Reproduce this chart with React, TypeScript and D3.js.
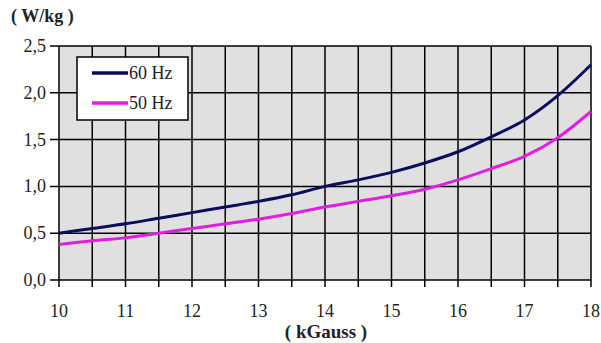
import * as d3 from 'd3';

const xs = [10, 10.5, 11, 11.5, 12, 12.5, 13, 13.5, 14, 14.5, 15, 15.5, 16, 16.5, 17, 17.5, 18];
const hz60 = [0.5, 0.55, 0.6, 0.66, 0.72, 0.78, 0.84, 0.91, 1.0, 1.07, 1.15, 1.25, 1.37, 1.53, 1.71, 1.97, 2.3];
const hz50 = [0.38, 0.42, 0.45, 0.5, 0.55, 0.6, 0.65, 0.71, 0.78, 0.84, 0.9, 0.97, 1.07, 1.19, 1.32, 1.52, 1.8];
const xTicks = [10, 11, 12, 13, 14, 15, 16, 17, 18];
const yTicks = [0, 0.5, 1, 1.5, 2, 2.5];
const series = [
  { name: '60 Hz', values: hz60, color: '#0c0c5e' },
  { name: '50 Hz', values: hz50, color: '#e01ee0' },
];

const W = 601, H = 343;
const left = 59, right = 591, top = 46, bottom = 280;
const font = '"Liberation Serif", "DejaVu Serif", serif';

export default function App() {
  const x = d3.scaleLinear().domain([10, 18]).range([left, right]);
  const y = d3.scaleLinear().domain([0, 2.5]).range([bottom, top]);
  const line = d3.line<number>()
    .x((_, i) => x(xs[i]))
    .y(d => y(d))
    .curve(d3.curveMonotoneX);
  const xGrid = d3.range(10, 18.01, 0.5);
  const yGrid = d3.range(0, 2.51, 0.5);
  const fmt = (v: number) => v.toFixed(1).replace('.', ',');

  return (
    <svg width={W} height={H} style={{ position: 'absolute', left: 0, top: 0, background: '#fff' }}>
      <rect x={left} y={top} width={right - left} height={bottom - top} fill="#e0e0e0" />
      {xGrid.map(v => (
        <line key={'gx' + v} x1={x(v)} x2={x(v)} y1={top} y2={bottom + 7} stroke="#000" strokeWidth={1.5} />
      ))}
      {yGrid.map(v => (
        <line key={'gy' + v} x1={left - 9} x2={right} y1={y(v)} y2={y(v)} stroke="#000" strokeWidth={1.5} />
      ))}
      {yTicks.map(v => (
        <text key={'yt' + v} x={46} y={y(v) + 6} textAnchor="end" fontFamily={font} fontSize={18} fill="#222">
          {fmt(v)}
        </text>
      ))}
      {xTicks.map(v => (
        <text key={'xt' + v} x={x(v)} y={bottom + 37} textAnchor="middle" fontFamily={font} fontSize={18} fill="#222">
          {v}
        </text>
      ))}
      {series.map(s => (
        <path key={s.name} d={line(s.values) || ''} fill="none" stroke={s.color} strokeWidth={3} />
      ))}
      <text x={11} y={22} fontFamily={font} fontSize={18} fontWeight="bold" fill="#222">( W/kg )</text>
      <text x={326} y={338} textAnchor="middle" fontFamily={font} fontSize={19} fontWeight="bold" fill="#222">( kGauss )</text>
      <rect x={77} y={57} width={111} height={63} fill="#fff" stroke="#000" strokeWidth={1.5} />
      {series.map((s, i) => (
        <g key={'lg' + s.name} transform={`translate(92, ${73 + i * 30})`}>
          <line x1={0} x2={36} y1={0} y2={0} stroke={s.color} strokeWidth={3.5} />
          <text x={37} y={6} fontFamily={font} fontSize={18} fill="#222">{s.name}</text>
        </g>
      ))}
    </svg>
  );
}
